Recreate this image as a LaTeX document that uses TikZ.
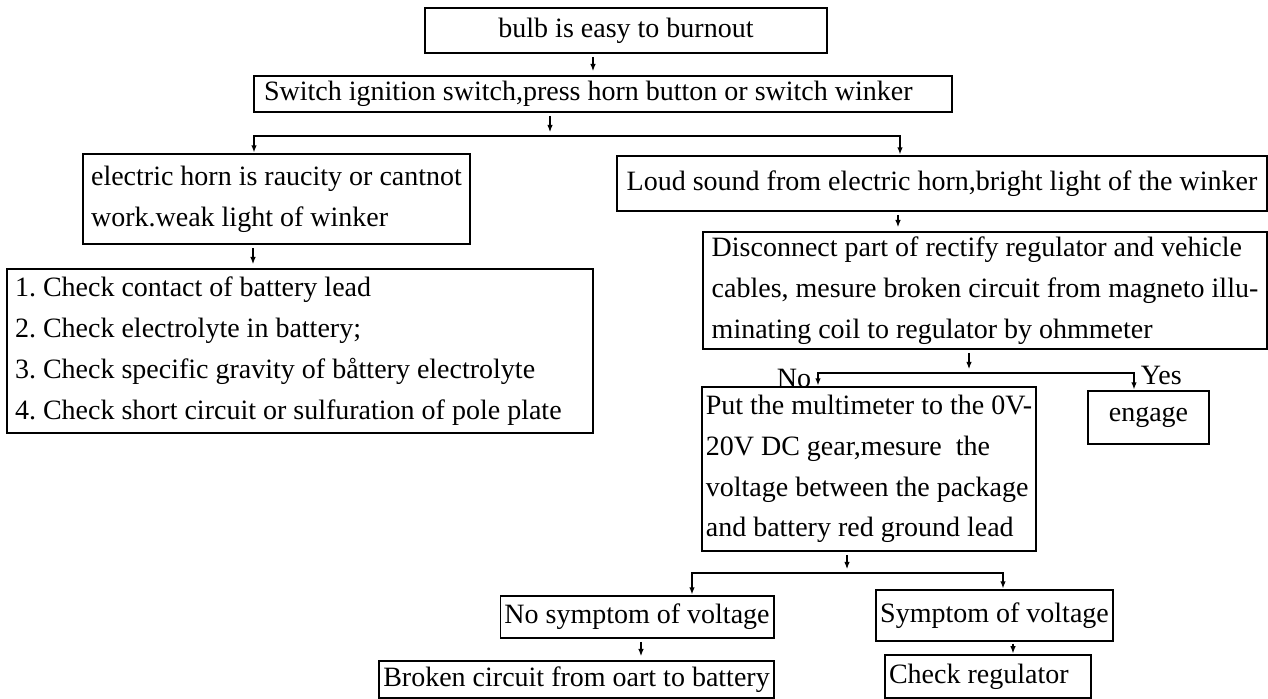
\documentclass[tikz,border=0pt]{standalone}
\usepackage{fontspec}
\setmainfont{Liberation Serif}
\usetikzlibrary{arrows.meta}

\begin{document}
\begin{tikzpicture}[
    x=0.5pt, y=-0.5pt,
    font=\fontsize{14}{20.4}\selectfont\frenchspacing,
    box/.style={draw, line width=0.9pt, inner xsep=2pt, inner ysep=0pt, align=center},
    multi/.style={box, align=left},
    arr/.style={-{Latex[length=3.6pt,width=2.8pt]}, line width=0.55pt,
                shorten <=1.5pt, shorten >=2pt},
    brn/.style={{Latex[length=3.6pt,width=2.8pt]}-{Latex[length=3.6pt,width=2.8pt]},
                line width=0.9pt, shorten <=0.3pt, shorten >=0.3pt},
    yn/.style={inner xsep=3pt, inner ysep=0pt}
  ]

  \path[fill=white] (0,0) rectangle (1268,699);
  \useasboundingbox (0,0) rectangle (1268,699);

  % ---- fault and first check ----
  \node[box, minimum width=201pt, minimum height=22.5pt] (top) at (626,30.5)
    {bulb is easy to burnout};
  \node[box, align=flush left, text width=339pt, inner xsep=5pt, minimum height=18pt] (ign) at (603,94)
    {Switch ignition switch,press horn button or switch winker};
  \draw[arr] (top.south -| 593,0) -- (ign.north -| 593,0);

  % ---- left branch: weak battery ----
  \node[multi, minimum width=193.5pt, minimum height=45pt] (horn) at (276.5,199)
    {electric horn is raucity or cantnot\\work.weak light of winker};
  \node[box, align=flush left, text width=285pt, inner xsep=4pt, minimum height=82pt] (check) at (300,351)
    {1. Check contact of battery lead\\
     2. Check electrolyte in battery;\\
     3. Check specific gravity of båttery electrolyte\\
     4. Check short circuit or sulfuration of pole plate};
  \draw[arr] (horn.south -| 253,0) -- (check.north -| 253,0);

  % ---- right branch: charging circuit ----
  \node[box, minimum width=325pt, minimum height=27.5pt] (loud) at (942,183.5)
    {Loud sound from electric horn,bright light of the winker};
  \node[multi, minimum width=282pt, minimum height=58.5pt] (ohm) at (985,290.5)
    {Disconnect part of rectify regulator and vehicle\\
     cables, mesure broken circuit from magneto illu-\\
     minating coil to regulator by ohmmeter};
  \draw[arr] (loud.south -| 898,0) -- (ohm.north -| 898,0);

  \coordinate (j1) at (550,136);
  \coordinate (j1l) at (254,136);
  \coordinate (j1r) at (900,136);
  \draw[arr] (ign.south -| j1) -- (j1);
  \draw[brn] (horn.north -| j1l) -- (j1l) -- (j1r) -- (loud.north -| j1r);

  % ---- ohmmeter result ----
  \node[multi, minimum width=166pt, minimum height=82pt] (volt) at (869,469)
    {Put the multimeter to the 0V-\\
     20V DC gear,mesure\ \ the\\
     voltage between the package\\
     and battery red ground lead};
  \node[box, minimum width=60.5pt, minimum height=26.5pt] (engage) at (1148.5,417.5)
    {engage};

  \coordinate (j2) at (969,373);
  \coordinate (j2l) at (818,373);
  \coordinate (j2r) at (1134,373);
  \draw[arr] (ohm.south -| j2) -- (j2);
  \draw[brn] (volt.north -| j2l) -- (j2l) node[left, yn, yshift=-2.5pt] {No}
    -- (j2r) node[right, yn, yshift=-1pt] {Yes} -- (engage.north -| j2r);

  % ---- voltage result ----
  \node[box, minimum width=136pt, minimum height=21pt] (novolt) at (637,617)
    {No symptom of voltage};
  \node[box, minimum width=118.5pt, minimum height=25.5pt] (yesvolt) at (994.5,615.5)
    {Symptom of voltage};

  \coordinate (j3) at (847,573);
  \coordinate (j3l) at (692,573);
  \coordinate (j3r) at (1003,573);
  \draw[arr] (volt.south -| j3) -- (j3);
  \draw[brn] (novolt.north -| j3l) -- (j3l) -- (j3r) -- (yesvolt.north -| j3r);

  \node[box, minimum width=190.5pt, minimum height=18.5pt] (broken) at (576.5,679.5)
    {Broken circuit from oart to battery};
  \node[box, align=flush left, text width=99pt, minimum height=21.5pt] (regul) at (988,676.5)
    {Check regulator};
  \draw[arr] (novolt.south -| 641,0) -- (broken.north -| 641,0);
  \draw[arr, shorten <=0.8pt, shorten >=0.4pt] (yesvolt.south -| 1013,0) -- (regul.north -| 1013,0);

\end{tikzpicture}
\end{document}
